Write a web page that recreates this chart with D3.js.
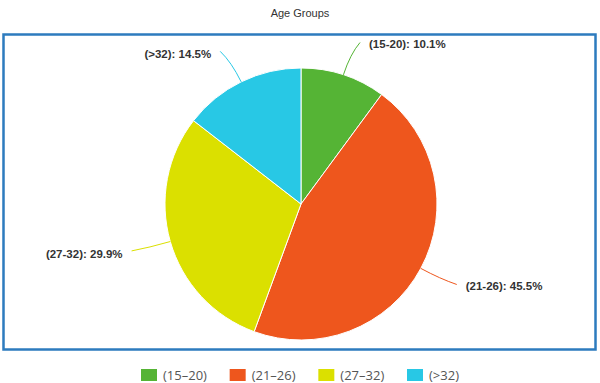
<!DOCTYPE html>
<html>
<head>
<meta charset="utf-8">
<script src="https://cdn.jsdelivr.net/npm/d3@7"></script>
<style>
  html, body { margin: 0; padding: 0; background: #fff; }
  svg { display: block; }
</style>
</head>
<body>
<svg id="chart" width="600" height="383"></svg>
<script>
const categories = ["(15-20)", "(21-26)", "(27-32)", "(>32)"];
const values = [10.1, 45.5, 29.9, 14.5];
const colors = ["#55b435", "#ee561d", "#dbe000", "#28c8e5"];
const titleText = "Age Groups";

const W = 600, H = 383;
const cx = 301, cy = 204, R = 136;
const svg = d3.select("#chart");

svg.append("text")
  .attr("x", W / 2).attr("y", 17)
  .attr("text-anchor", "middle")
  .style("font-family", "Arial, 'Liberation Sans', sans-serif")
  .style("font-size", "11px")
  .style("fill", "#333")
  .text(titleText);

svg.append("rect")
  .attr("x", 3.5).attr("y", 34.5)
  .attr("width", 592).attr("height", 315)
  .attr("fill", "none")
  .attr("stroke", "#2d7bbe")
  .attr("stroke-width", 2.5);

const data = categories.map((c, i) => ({ cat: c, value: values[i], color: colors[i] }));
const pie = d3.pie().sort(null).value(d => d.value);
const arcs = pie(data);
const arc = d3.arc().innerRadius(0).outerRadius(R);

const g = svg.append("g").attr("transform", `translate(${cx},${cy})`);
g.selectAll("path.slice").data(arcs).enter().append("path")
  .attr("class", "slice")
  .attr("d", arc)
  .attr("fill", d => d.data.color)
  .attr("stroke", "#fff")
  .attr("stroke-width", 1);

function pt(a, r) { return [Math.sin(a) * r, -Math.cos(a) * r]; }

arcs.forEach(d => {
  const a = (d.startAngle + d.endAngle) / 2;
  const p0 = pt(a, R);
  const p1 = pt(a, R + 22);
  const p2 = pt(a, R + 34);
  const right = Math.sin(a) >= 0;
  const end = [p2[0] + (right ? 6 : -6), p2[1]];
  g.append("path")
    .attr("d", `M${p0[0]},${p0[1]} Q${p1[0]},${p1[1]} ${end[0]},${end[1]}`)
    .attr("fill", "none")
    .attr("stroke", d.data.color)
    .attr("stroke-width", 1);
  g.append("text")
    .attr("x", end[0] + (right ? 9 : -9))
    .attr("y", end[1] + (right ? 1 : 3))
    .attr("dy", "0.35em")
    .attr("text-anchor", right ? "start" : "end")
    .style("font-family", "Arial, 'Liberation Sans', sans-serif")
    .style("font-size", "11.5px")
    .style("font-weight", "bold")
    .style("fill", "#333")
    .text(`${d.data.cat}: ${d.data.value.toFixed(1)}%`);
});

const lx = d3.scalePoint().domain(categories).range([141, 407]);
const leg = svg.append("g");
categories.forEach((c, i) => {
  const x = lx(c);
  leg.append("rect")
    .attr("x", x).attr("y", 369)
    .attr("width", 16).attr("height", 12)
    .attr("fill", colors[i]);
  leg.append("text")
    .attr("x", x + 22).attr("y", 375)
    .attr("dy", "0.35em")
    .style("font-family", "'Open Sans', sans-serif")
    .style("font-size", "13px")
    .style("fill", "#555")
    .text(c.replace("-", "–"));
});
</script>
</body>
</html>
